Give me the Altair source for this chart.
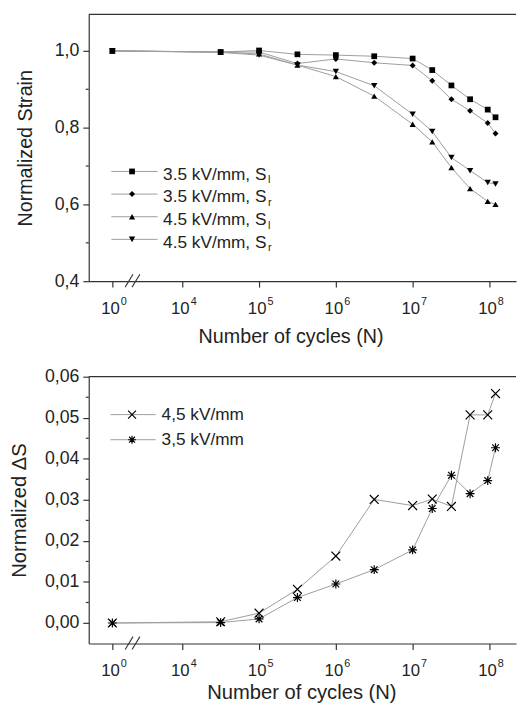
import altair as alt
import pandas as pd
import numpy as np

# ---------------- data ----------------
cycles = [1, 3.16e4, 1e5, 3.16e5, 1e6, 3.16e6, 1e7, 1.8e7, 3.2e7, 5.6e7, 9.5e7, 1.2e8]

strain_35_l = [1.000, 0.997, 1.001, 0.991, 0.989, 0.986, 0.980, 0.950, 0.910, 0.874, 0.847, 0.827]
strain_35_r = [1.000, 0.997, 0.997, 0.967, 0.979, 0.969, 0.962, 0.922, 0.874, 0.844, 0.812, 0.785]
strain_45_l = [1.000, 0.997, 0.992, 0.963, 0.933, 0.882, 0.809, 0.763, 0.696, 0.641, 0.608, 0.600]
strain_45_r = [1.000, 0.996, 0.989, 0.963, 0.946, 0.909, 0.835, 0.790, 0.722, 0.688, 0.657, 0.653]

ds_45 = [0.0, 0.0003, 0.0024, 0.0082, 0.0163, 0.0301, 0.0286, 0.0302, 0.0284, 0.0507, 0.0507, 0.0559]
ds_35 = [0.0, 0.0001, 0.0010, 0.0062, 0.0095, 0.0130, 0.0178, 0.0279, 0.0360, 0.0315, 0.0347, 0.0427]

top_keys = ["s35l", "s35r", "s45l", "s45r"]
top_main = ["3.5 kV/mm, S", "3.5 kV/mm, S", "4.5 kV/mm, S", "4.5 kV/mm, S"]
top_sub = ["l", "r", "l", "r"]
bot_keys = ["d45", "d35"]
bot_labels = ["4,5 kV/mm", "3,5 kV/mm"]

tick_exps = [0, 4, 5, 6, 7, 8]

# ---------------- broken log axis helper ----------------
P0 = 4 - 71 / 78          # where 10^0 sits on the broken axis
XDOM = [4 - 95 / 78, 8 + 27 / 78]


def brk(n):
    return P0 if n < 1e3 else float(np.log10(n))


pos = [brk(c) for c in cycles]
tick_pos = [P0 if e == 0 else float(e) for e in tick_exps]

W = 434
H = 271
LINE = "#9c9c9c"
AX = "#333333"

xscale = alt.Scale(domain=XDOM, nice=False, zero=False)

top_df = pd.concat([
    pd.DataFrame({"pos": pos, "val": v, "series": k, "i": range(len(pos))})
    for k, v in zip(top_keys, [strain_35_l, strain_35_r, strain_45_l, strain_45_r])
])
bot_df = pd.concat([
    pd.DataFrame({"pos": pos, "val": v, "series": k, "i": range(len(pos))})
    for k, v in zip(bot_keys, [ds_45, ds_35])
])

tick_df = pd.DataFrame({"pos": tick_pos, "base": ["10"] * len(tick_exps),
                        "sup": [str(e) for e in tick_exps]})
dummy = pd.DataFrame({"a": [0]})

top_shape = alt.Scale(domain=top_keys, range=["square", "diamond", "triangle-up", "triangle-down"])
top_size = alt.Scale(domain=top_keys, range=[34, 42, 46, 46])
XPATH = "M-1,-1L1,1M-1,1L1,-1"
STAR = "M-1,0L1,0M0,-1L0,1M-0.75,-0.75L0.75,0.75M-0.75,0.75L0.75,-0.75"
bot_paths = {"d45": XPATH, "d35": STAR}


def common_layers(lab_base, sup_base):
    border = alt.Chart(dummy).mark_rule(color=AX, strokeWidth=1.2).encode(
        x=alt.value(0), x2=alt.value(W), y=alt.value(0))
    b1 = alt.Chart(dummy).mark_rule(color=AX, strokeWidth=1.1).encode(
        x=alt.value(37), x2=alt.value(45), y=alt.value(H + 6), y2=alt.value(H - 7))
    b2 = alt.Chart(dummy).mark_rule(color=AX, strokeWidth=1.1).encode(
        x=alt.value(44), x2=alt.value(52), y=alt.value(H + 6), y2=alt.value(H - 7))
    base_lab = alt.Chart(tick_df).mark_text(align="right", baseline="alphabetic",
                                            fontSize=17, dx=7.5, color="#222").encode(
        x=alt.X("pos:Q", scale=xscale), y=alt.value(lab_base), text="base:N")
    sup_lab = alt.Chart(tick_df).mark_text(align="left", baseline="alphabetic",
                                           fontSize=11, dx=8.5, color="#222").encode(
        x=alt.X("pos:Q", scale=xscale), y=alt.value(sup_base), text="sup:N")
    return [border, b1, b2, base_lab, sup_lab]


def xaxis(title, tx, ty, size):
    return alt.Axis(values=tick_pos, labels=False, tickSize=6, title=title, titleX=tx,
                    titleY=ty, titleAlign="center", titleBaseline="alphabetic",
                    titleFontSize=size, titleFontWeight="normal", grid=False)


# ---------------- top panel ----------------
yscale_t = alt.Scale(domain=[0.4, 1.095], nice=False, zero=False)
yaxis_t = alt.Axis(values=[0.4, 0.6, 0.8, 1.0],
                   labelExpr="replace(format(datum.value, '.1f'), '.', ',')",
                   tickSize=6, labelPadding=4, labelFontSize=18,
                   title="Normalized Strain", titleFontSize=20, titleFontWeight="normal",
                   titleX=-64, titleY=H / 2, titleAlign="center", titleBaseline="middle",
                   titleAngle=270, grid=False)

t_lines = alt.Chart(top_df).mark_line(color=LINE, strokeWidth=1).encode(
    x=alt.X("pos:Q", scale=xscale, axis=xaxis("Number of cycles (N)", 205, 62, 20)),
    y=alt.Y("val:Q", scale=yscale_t, axis=yaxis_t),
    detail="series:N", order="i:Q")
t_pts = alt.Chart(top_df).mark_point(filled=True, color="black", opacity=1).encode(
    x=alt.X("pos:Q", scale=xscale),
    y=alt.Y("val:Q", scale=yscale_t),
    shape=alt.Shape("series:N", scale=top_shape, legend=None),
    size=alt.Size("series:N", scale=top_size, legend=None))
t_minor = alt.Chart(pd.DataFrame({"val": [0.5, 0.7, 0.9]})).mark_rule(color=AX, strokeWidth=1.2).encode(
    y=alt.Y("val:Q", scale=yscale_t), x=alt.value(-3), x2=alt.value(0))

leg_t = pd.DataFrame({"series": top_keys, "main": top_main, "sub": top_sub, "row": range(4)})
lt = alt.Chart(leg_t).transform_calculate(
    my="159.5 + datum.row * 23", ty="168 + datum.row * 23", sy="171.5 + datum.row * 23")
lt_line = lt.mark_rule(color=LINE, strokeWidth=1).encode(
    x=alt.value(23), x2=alt.value(70), y=alt.Y("my:Q", scale=None, axis=None))
lt_pt = lt.mark_point(filled=True, color="black", opacity=1).encode(
    x=alt.value(44), y=alt.Y("my:Q", scale=None, axis=None),
    shape=alt.Shape("series:N", scale=top_shape, legend=None),
    size=alt.Size("series:N", scale=top_size, legend=None))
lt_txt = lt.mark_text(align="left", baseline="alphabetic", fontSize=17.5, color="#222").encode(
    x=alt.value(75.5), y=alt.Y("ty:Q", scale=None, axis=None), text="main:N")
lt_sub = lt.mark_text(align="left", baseline="alphabetic", fontSize=11, color="#222").encode(
    x=alt.value(182), y=alt.Y("sy:Q", scale=None, axis=None), text="sub:N")

top = alt.layer(
    t_lines, t_pts, t_minor,
    *common_layers(H + 33, H + 24),
    lt_line, lt_pt, lt_txt, lt_sub,
).properties(width=W, height=H)

# ---------------- bottom panel ----------------
yscale_b = alt.Scale(domain=[-0.005, 0.06], nice=False, zero=False)
yaxis_b = alt.Axis(values=[0, 0.01, 0.02, 0.03, 0.04, 0.05, 0.06],
                   labelExpr="replace(format(datum.value, '.2f'), '.', ',')",
                   tickSize=6, labelPadding=4, labelFontSize=18,
                   title="Normalized ΔS", titleFontSize=20.5, titleFontWeight="normal",
                   titleX=-70, titleY=H / 2, titleAlign="center", titleBaseline="middle",
                   titleAngle=270, grid=False)

b_lines = alt.Chart(bot_df).mark_line(color=LINE, strokeWidth=1).encode(
    x=alt.X("pos:Q", scale=xscale, axis=xaxis("Number of cycles (N)", 216, 56, 20.5)),
    y=alt.Y("val:Q", scale=yscale_b, axis=yaxis_b),
    detail="series:N", order="i:Q")
b_pts = [
    alt.Chart(bot_df).transform_filter(alt.datum.series == k).mark_point(
        shape=bot_paths[k], filled=False, color="black", opacity=1, strokeWidth=1.2, size=81).encode(
        x=alt.X("pos:Q", scale=xscale),
        y=alt.Y("val:Q", scale=yscale_b))
    for k in bot_keys
]
b_minor = alt.Chart(pd.DataFrame({"val": [0.005, 0.015, 0.025, 0.035, 0.045, 0.055]})).mark_rule(
    color=AX, strokeWidth=1.2).encode(
    y=alt.Y("val:Q", scale=yscale_b), x=alt.value(-3), x2=alt.value(0))

leg_b = pd.DataFrame({"series": bot_keys, "label": bot_labels, "row": range(2)})
lb = alt.Chart(leg_b).transform_calculate(
    my="38.5 + datum.row * 25.5", ty="44 + datum.row * 25.5")
lb_line = lb.mark_rule(color=LINE, strokeWidth=1).encode(
    x=alt.value(22), x2=alt.value(68), y=alt.Y("my:Q", scale=None, axis=None))
lb_pts = [
    lb.transform_filter(alt.datum.series == k).mark_point(
        shape=bot_paths[k], filled=False, color="black", opacity=1, strokeWidth=1.2, size=64).encode(
        x=alt.value(44), y=alt.Y("my:Q", scale=None, axis=None))
    for k in bot_keys
]
lb_txt = lb.mark_text(align="left", baseline="alphabetic", fontSize=17.5, color="#222").encode(
    x=alt.value(74), y=alt.Y("ty:Q", scale=None, axis=None), text="label:N")

bottom = alt.layer(
    b_lines, *b_pts, b_minor,
    *common_layers(H + 33, H + 24),
    lb_line, *lb_pts, lb_txt,
).properties(width=W, height=H)

chart = alt.vconcat(top, bottom, spacing=97, bounds="flush").properties(
    padding={"left": 2, "top": 0, "right": 0, "bottom": 0}
).configure(font="Liberation Sans").configure_view(stroke=None).configure_axis(
    domainColor=AX, tickColor=AX, labelColor="#222", titleColor="#222", grid=False,
    domainWidth=1.2, tickWidth=1.2)

chart.save("out.html", embed_options={"renderer": "svg", "actions": False})
